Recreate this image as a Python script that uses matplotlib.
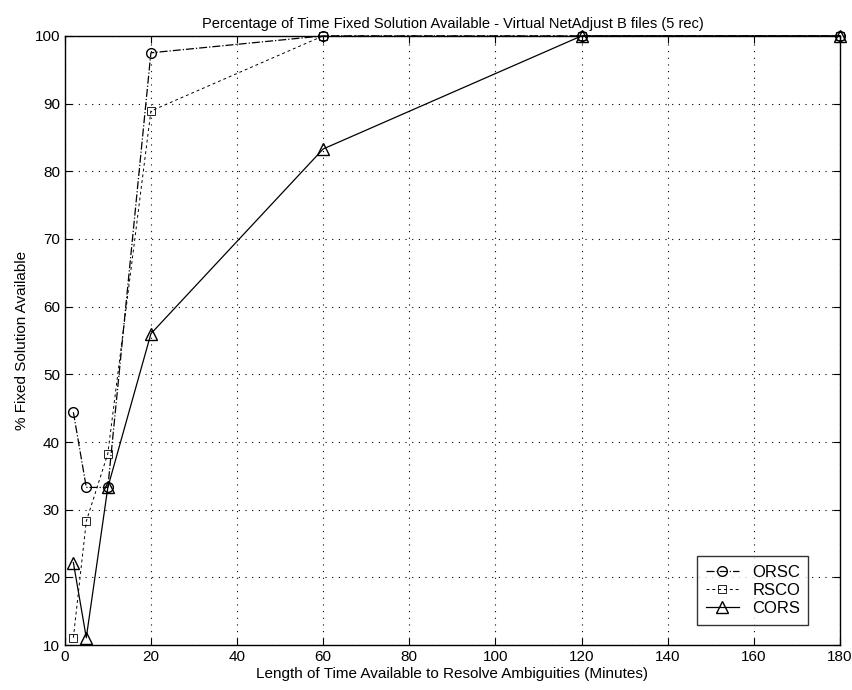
import matplotlib
matplotlib.use('Agg')
import matplotlib.pyplot as plt

plt.rcParams['font.family'] = ['Liberation Sans', 'DejaVu Sans']

# minutes
x = [2, 5, 10, 20, 60, 120, 180]
orsc = [44.4, 33.3, 33.3, 97.5, 100, 100, 100]
rsco = [11.1, 28.3, 38.3, 88.9, 100, 100, 100]
cors = [22.2, 11.1, 33.3, 56.0, 83.3, 100, 100]

fig = plt.figure(figsize=(8.52, 6.9), dpi=100)
ax = fig.add_axes([0.076, 0.065, 0.91, 0.883])

ax.plot(x, orsc, color='black', linestyle='-.', linewidth=0.9, marker='o',
        markersize=7, markerfacecolor='none', markeredgewidth=1.0, label='ORSC',
        clip_on=False, zorder=3)
ax.plot(x, rsco, color='black', linestyle=(0, (3, 3)), linewidth=0.7, marker='s',
        markersize=6, markerfacecolor='none', markeredgewidth=0.6, label='RSCO',
        clip_on=False, zorder=3)
ax.plot(x, cors, color='black', linestyle='-', linewidth=0.9, marker='^',
        markersize=8, markerfacecolor='none', markeredgewidth=1.0, label='CORS',
        clip_on=False, zorder=3)

ax.set_xlim(0, 180)
ax.set_ylim(10, 100)
ax.set_xticks(range(0, 181, 20))
ax.set_yticks(range(10, 101, 10))
ax.tick_params(direction='in', labelsize=11, length=5, top=True, right=True)
ax.grid(True, linestyle=(0, (1, 5)), color='black', linewidth=0.8)
for s in ax.spines.values():
    s.set_linewidth(1.0)

ax.set_xlabel('Length of Time Available to Resolve Ambiguities (Minutes)', fontsize=11, labelpad=2)
ax.set_ylabel('% Fixed Solution Available', fontsize=11)
ax.set_title('Percentage of Time Fixed Solution Available - Virtual NetAdjust B files (5 rec)',
             fontsize=10.5, pad=6)

leg = ax.legend(loc='lower right', bbox_to_anchor=(0.97, 0.02), fancybox=False,
                edgecolor='black', fontsize=12, handlelength=2.0, borderpad=0.5,
                labelspacing=0.2)
leg.get_frame().set_linewidth(1.0)

fig.savefig('out.png', dpi=100)
